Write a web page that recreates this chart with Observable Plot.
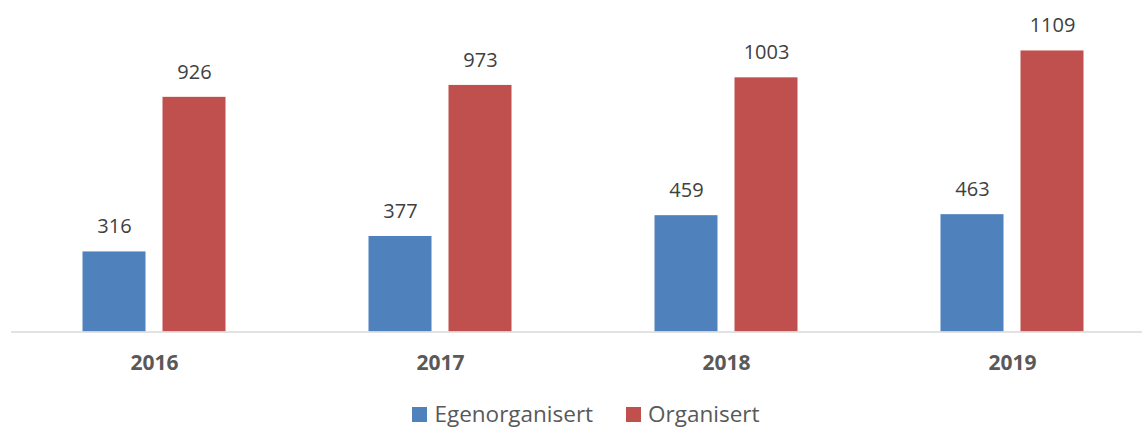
<!DOCTYPE html>
<html>
<head>
<meta charset="utf-8">
<script src="https://cdn.jsdelivr.net/npm/d3@7"></script>
<script src="https://cdn.jsdelivr.net/npm/@observablehq/plot@0.6"></script>
<style>
  html, body { margin: 0; padding: 0; background: #fff; overflow: hidden; }
  #legend { display: flex; justify-content: center; align-items: center; height: 42px;
    font-family: "Open Sans", sans-serif; font-size: 22.5px; line-height: 1.2; color: #595959; padding-left: 30px; }
  .item { display: flex; align-items: center; margin: 0 16.5px; }
  .sw { width: 15px; height: 15px; margin-right: 7px; margin-top: 2px; }
</style>
</head>
<body>
<div id="chart"></div>
<div id="legend"></div>
<script>
const years = ["2016", "2017", "2018", "2019"];
const seriesNames = ["Egenorganisert", "Organisert"];
const egenorganisert = [316, 377, 459, 463];
const organisert = [926, 973, 1003, 1109];
const colors = ["#4F81BD", "#C0504D"];

const data = [];
years.forEach((y, i) => {
  data.push({year: y, series: seriesNames[0], value: egenorganisert[i]});
  data.push({year: y, series: seriesNames[1], value: organisert[i]});
});

const chart = Plot.plot({
  width: 1142,
  height: 392,
  marginLeft: 10.5,
  marginRight: -12.5,
  marginTop: 27.4,
  marginBottom: 60.5,
  style: {fontFamily: "'Open Sans', sans-serif", background: "#fff", overflow: "visible"},
  fx: {domain: years, padding: 0, label: null, axis: "bottom", tickSize: 0, tickPadding: 23},
  x: {domain: seriesNames, paddingInner: 0.21, paddingOuter: 0.8705, axis: null},
  y: {domain: [0, 1200], axis: null},
  color: {domain: seriesNames, range: colors},
  marks: [
    Plot.barY(data, {fx: "year", x: "series", y: "value", fill: "series"}),
    Plot.ruleY([0], {stroke: "#D9D9D9", strokeWidth: 1.3}),
    Plot.text(data, {fx: "year", x: "series", y: "value", text: d => String(d.value), dy: -25,
      fill: "#404040", fontSize: 20})
  ]
});

d3.select(chart).selectAll("g[aria-label='fx-axis tick label'] text, g[aria-label='fx-axis tick label']")
  .attr("font-size", 21).attr("font-weight", "bold").attr("fill", "#595959");

document.getElementById("chart").appendChild(chart);

const legend = d3.select("#legend");
seriesNames.forEach((s, i) => {
  const it = legend.append("div").attr("class", "item");
  it.append("div").attr("class", "sw").style("background", colors[i]);
  it.append("span").text(s);
});
</script>
</body>
</html>
